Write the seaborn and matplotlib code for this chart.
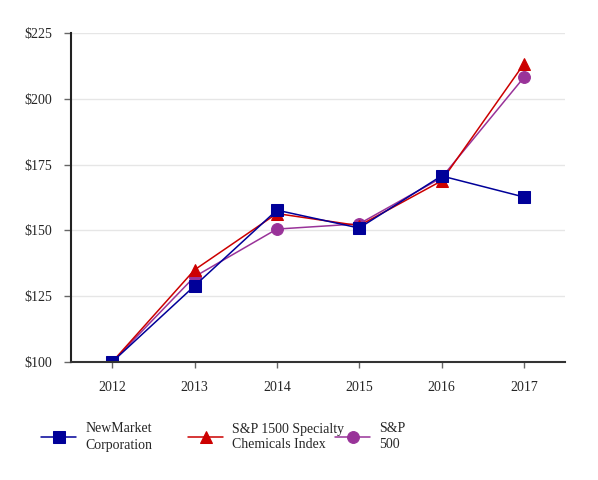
import matplotlib
matplotlib.use('Agg')
import matplotlib.pyplot as plt
import seaborn as sns
import pandas as pd
from matplotlib.ticker import FuncFormatter

years = [2012, 2013, 2014, 2015, 2016, 2017]
newmarket = [100, 128.9, 157.7, 150.9, 170.7, 162.7]
specialty = [100, 135.0, 156.4, 151.8, 168.8, 213.2]
sp500 = [100, 132.4, 150.5, 152.5, 170.0, 208.1]

series = [
    ("NewMarket\nCorporation", newmarket, "#000099", "s", 8.5),
    ("S&P 1500 Specialty\nChemicals Index", specialty, "#cc0000", "^", 9),
    ("S&P\n500", sp500, "#993399", "o", 8.5),
]

sns.set_style("white")
plt.rcParams['font.family'] = ['Liberation Serif', 'DejaVu Serif']

fig = plt.figure(figsize=(5.98, 4.8), dpi=100)
ax = fig.add_axes([71 / 598, 118 / 480, 494 / 598, 329 / 480])

# draw in reverse so NewMarket squares sit on top, keep legend order
handles = {}
for label, vals, color, marker, ms in reversed(series):
    df = pd.DataFrame({"year": years, "value": vals})
    sns.lineplot(data=df, x="year", y="value", ax=ax, color=color, marker=marker,
                 markersize=ms, markeredgecolor=color, linewidth=1.1, label=label,
                 legend=False)
    handles[label] = ax.lines[-1]

ax.set_xlim(2011.5, 2017.5)
ax.set_ylim(100, 225)
ax.set_yticks([100, 125, 150, 175, 200, 225])
ax.set_xticks(years)
ax.yaxis.set_major_formatter(FuncFormatter(lambda v, p: f"${v:.0f}"))
ax.set_xlabel("")
ax.set_ylabel("")
ax.grid(axis='y', color='#e6e6e6', linewidth=1)
ax.set_axisbelow(True)
for s in ['top', 'right']:
    ax.spines[s].set_visible(False)
ax.spines['left'].set_color('#222222')
ax.spines['left'].set_linewidth(1.5)
ax.spines['bottom'].set_color('#333333')
ax.spines['bottom'].set_linewidth(1.5)
ax.tick_params(axis='x', bottom=True, length=4, width=1, color='#666666',
               labelsize=10, pad=10)
ax.tick_params(axis='y', left=True, length=5, width=1, color='#666666',
               labelsize=10, pad=8.5)

# one legend entry per fixed column, like the reference layout
xs = [43 / 598, 190 / 598, 337 / 598]
for (label, *_), x in zip(series, xs):
    h = handles[label]
    leg = fig.legend(handles=[h], labels=[label], loc='center left',
                     bbox_to_anchor=(x - 0.012, 43 / 480), frameon=False, fontsize=10,
                     handlelength=2.5, handletextpad=0.65, borderaxespad=0)
    for t in leg.get_texts():
        t.set_linespacing(1.3)

fig.savefig("out.png", dpi=100)
